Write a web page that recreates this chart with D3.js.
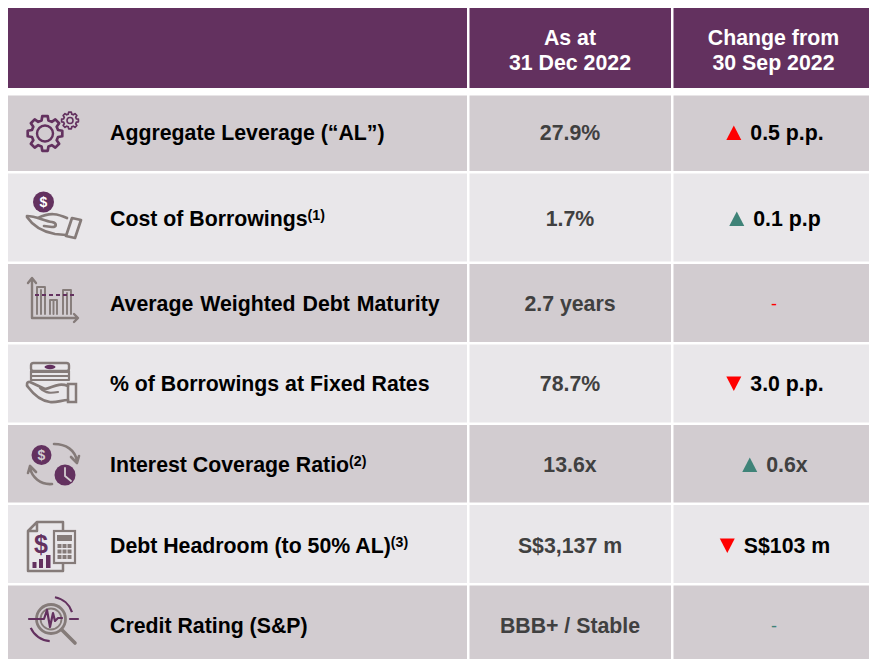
<!DOCTYPE html>
<html lang="en">

<head>
    <meta charset="UTF-8">
    <title>Debt metrics</title>
    <script src="https://d3js.org/d3.v7.min.js"></script>
    <style>
        html, body { margin: 0; padding: 0; background: #fff; }
        svg { display: block; }
        text { font-family: "Liberation Sans", Arial, sans-serif; font-weight: bold; }
    </style>
</head>

<body>
    <div class="chart"></div>

    <script>
        // table content
        var headerCol2 = ['As at', '31 Dec 2022'];
        var headerCol3 = ['Change from', '30 Sep 2022'];
        var labels = ['Aggregate Leverage (“AL”)', 'Cost of Borrowings', 'Average Weighted Debt Maturity',
            '% of Borrowings at Fixed Rates', 'Interest Coverage Ratio', 'Debt Headroom (to 50% AL)', 'Credit Rating (S&P)'];
        var notes = ['', '(1)', '', '', '(2)', '(3)', ''];
        var values = ['27.9%', '1.7%', '2.7 years', '78.7%', '13.6x', 'S$3,137 m', 'BBB+ / Stable'];
        var changes = ['0.5 p.p.', '0.1 p.p', '-', '3.0 p.p.', '0.6x', 'S$103 m', '-'];
        var directions = ['up', 'up', 'none', 'down', 'up', 'down', 'none'];
        var changeTones = ['bad', 'good', 'bad', 'bad', 'good', 'bad', 'good'];

        var purple = '#63315f', grey = '#857b79', darkRow = '#d2ccd0', lightRow = '#e9e7ea';
        var red = '#ff0000', teal = '#3f8378';

        var width = 869, height = 659;
        var colEdges = [[8, 467], [469.5, 671], [673.5, 869]];
        var rowEdges = [[95.5, 171], [173.5, 261.5], [264, 342], [344.5, 422.5], [425, 502.5], [505, 583], [585.5, 659]];

        var svg = d3.select('.chart').append('svg')
            .attr('width', width)
            .attr('height', height);

        // header
        colEdges.forEach(function (c) {
            svg.append('rect').attr('x', c[0]).attr('y', 8).attr('width', c[1] - c[0]).attr('height', 80).attr('fill', purple);
        });
        [headerCol2, headerCol3].forEach(function (lines, i) {
            lines.forEach(function (t, j) {
                svg.append('text')
                    .attr('x', i == 0 ? 570 : 773.5)
                    .attr('y', 45 + j * 25)
                    .attr('text-anchor', 'middle')
                    .attr('font-size', 21.3)
                    .attr('fill', '#fff')
                    .text(t);
            });
        });

        // rows
        labels.forEach(function (label, i) {
            var r = rowEdges[i];
            colEdges.forEach(function (c) {
                svg.append('rect').attr('x', c[0]).attr('y', r[0]).attr('width', c[1] - c[0]).attr('height', r[1] - r[0])
                    .attr('fill', i % 2 == 0 ? darkRow : lightRow);
            });

            var base = [140, 226, 311, 391, 472, 553, 633][i];

            var t = svg.append('text').attr('x', 110).attr('y', base).attr('font-size', 21.3).attr('fill', '#000');
            if (i == 2) t.attr('word-spacing', 1);
            t.append('tspan').text(label);
            if (notes[i]) {
                t.append('tspan').attr('dy', -6).attr('font-size', 14.2).text(notes[i]);
            }

            svg.append('text').attr('x', 570).attr('y', base).attr('text-anchor', 'middle')
                .attr('font-size', 21.3).attr('fill', '#404040').text(values[i]);

            var tone = changeTones[i] == 'bad' ? red : teal;
            if (directions[i] == 'none') {
                svg.append('text').attr('x', 774).attr('y', base - 1).attr('text-anchor', 'middle')
                    .attr('font-size', 18).attr('font-weight', 'normal').style('font-weight', 'normal')
                    .attr('fill', tone).text(changes[i]);
            } else {
                var ct = svg.append('text').attr('y', base).attr('font-size', 21.3)
                    .attr('fill', i == 4 ? '#404040' : '#000').text(changes[i]);
                var w = ct.node().getComputedTextLength();
                var left = 775 - (w + 24) / 2;
                ct.attr('x', left + 24);
                var tb = base - 14.5;
                var pts = directions[i] == 'up'
                    ? [[left, tb + 14.5], [left + 15, tb + 14.5], [left + 7.5, tb]]
                    : [[left, tb], [left + 15, tb], [left + 7.5, tb + 14.5]];
                svg.append('path').attr('d', d3.line()(pts) + 'Z').attr('fill', tone);
            }
        });

        // icons, drawn by hand
        function stroke(g, d, col, sw) {
            return g.append('path').attr('d', d).attr('fill', 'none').attr('stroke', col)
                .attr('stroke-width', sw).attr('stroke-linejoin', 'round').attr('stroke-linecap', 'round');
        }
        function gearPath(cx, cy, rOut, rIn, teeth) {
            var pts = [];
            for (var k = 0; k < teeth; k++) {
                var a = k / teeth * 2 * Math.PI, s = Math.PI / teeth;
                [[-0.6, rIn], [-0.36, rOut], [0.36, rOut], [0.6, rIn]].forEach(function (p) {
                    var b = a + p[0] * s * 1.1;
                    pts.push([cx + p[1] * Math.cos(b), cy + p[1] * Math.sin(b)]);
                });
            }
            return d3.line()(pts) + 'Z';
        }
        function coin(g, cx, cy, r) {
            g.append('circle').attr('cx', cx).attr('cy', cy).attr('r', r).attr('fill', purple);
        }
        function dollar(g, x, y, size, col) {
            g.append('text').attr('x', x).attr('y', y).attr('text-anchor', 'middle')
                .attr('font-size', size).attr('fill', col).text('$');
        }

        var icons = svg.append('g');

        // gears
        stroke(icons, gearPath(45, 133.5, 17.5, 13.5, 8), purple, 2.7);
        icons.append('circle').attr('cx', 45).attr('cy', 133.5).attr('r', 8).attr('fill', 'none').attr('stroke', purple).attr('stroke-width', 2.4);
        stroke(icons, gearPath(70, 120.5, 8.5, 6.6, 8), purple, 1.7);
        icons.append('circle').attr('cx', 70).attr('cy', 120.5).attr('r', 3).attr('fill', 'none').attr('stroke', purple).attr('stroke-width', 1.6);

        // hand with coin
        coin(icons, 43.5, 202, 10.5);
        dollar(icons, 43.5, 207, 14, '#fff');
        stroke(icons, 'M67 218 C58 214 50 212 38 218 M27 216 C36 216 44 221 52 222 C57 223 57 227 52 227 L44 226', grey, 2.7);
        stroke(icons, 'M27 217 C33 226 44 232 55 234 L66 235', grey, 2.7);
        stroke(icons, 'M72 218 L81 220 L75 238 L66 236 Z', grey, 2.7);

        // bar chart with dashed line
        stroke(icons, 'M32 279 L32 318 L77 318 M28 283 L32 278 L36 283 M74 314 L78 318 L74 322', grey, 2.4);
        stroke(icons, 'M37 314 L37 287 L45 287 L45 314 M41 290 L41 314 M50 314 L50 300 L57 300 L57 314 M53.5 300 L53.5 314 M63 314 L63 290 L71 290 L71 314 M67 293 L67 314', grey, 1.9);
        stroke(icons, 'M35 295 L77 295', purple, 2.2).attr('stroke-dasharray', '4 3').attr('stroke-linecap', 'butt');

        // cash stack on a hand
        icons.append('rect').attr('x', 31).attr('y', 363).attr('width', 38).attr('height', 8).attr('rx', 2.5).attr('fill', 'none').attr('stroke', grey).attr('stroke-width', 2.4);
        icons.append('ellipse').attr('cx', 50).attr('cy', 367).attr('rx', 5.5).attr('ry', 2.2).attr('fill', purple);
        stroke(icons, 'M31 372 L69 372 M31 376 L69 376 M31 380 L69 380 M31 371 L31 380 M69 371 L69 380', grey, 2.2);
        stroke(icons, 'M68 386 C58 382 52 388 45 389 L30 382 C27 381 26 385 28 387 C34 395 42 401 50 402 C56 403 62 400 68 400', grey, 2.7);
        stroke(icons, 'M40 388 C46 394 52 393 58 392', grey, 2.2);
        icons.append('rect').attr('x', 68).attr('y', 384).attr('width', 8).attr('height', 18).attr('fill', 'none').attr('stroke', grey).attr('stroke-width', 2.5);

        // coin, clock and round arrows
        coin(icons, 41.5, 455, 10);
        dollar(icons, 41.5, 460, 14, darkRow);
        coin(icons, 65, 475, 10.5);
        stroke(icons, 'M65 468 L65 476 L71 481', darkRow, 1.8);
        stroke(icons, 'M54 444 C66 444 75 450 77 461 M71 457 L77 463 L79 456', grey, 2.6);
        stroke(icons, 'M52 484 C40 485 32 477 30 468 M36 472 L30 466 L28 473', grey, 2.6);

        // document with calculator
        stroke(icons, 'M37 522 L63 522 L63 530 M37 522 L28 531 L28 571 L63 571 L63 564 M37 522 L37 531 L28 531', grey, 2.5);
        dollar(icons, 41, 553, 25, purple);
        [[32.5, 562, 4], [39, 559, 4], [46, 555, 4.5]].forEach(function (b) {
            icons.append('rect').attr('x', b[0]).attr('y', b[1]).attr('width', b[2]).attr('height', 568 - b[1]).attr('fill', purple);
        });
        icons.append('rect').attr('x', 54).attr('y', 531).attr('width', 21).attr('height', 32).attr('fill', lightRow).attr('stroke', grey).attr('stroke-width', 2.2);
        icons.append('rect').attr('x', 57).attr('y', 535).attr('width', 15).attr('height', 6).attr('fill', grey);
        d3.range(3).forEach(function (a) {
            d3.range(3).forEach(function (b) {
                icons.append('rect').attr('x', 57.5 + a * 5).attr('y', 544 + b * 5.5).attr('width', 4).attr('height', 4).attr('fill', grey);
            });
        });

        // magnifier with pulse line
        icons.append('circle').attr('cx', 51).attr('cy', 619).attr('r', 14.5).attr('fill', 'none').attr('stroke', grey).attr('stroke-width', 2.8);
        icons.append('circle').attr('cx', 51).attr('cy', 619).attr('r', 10.5).attr('fill', 'none').attr('stroke', grey).attr('stroke-width', 1.8);
        stroke(icons, 'M62 630 L75 643', grey, 3.6);
        var arcPurple = d3.arc().innerRadius(21).outerRadius(23.2);
        icons.append('path').attr('transform', 'translate(51,619)').attr('fill', purple)
            .attr('d', arcPurple({ startAngle: 0.18, endAngle: 1.25 }));
        icons.append('path').attr('transform', 'translate(51,619)').attr('fill', purple)
            .attr('d', arcPurple({ startAngle: 3.2, endAngle: 4.3 }));
        stroke(icons, 'M29 619 L44 619 L47 610 L50 627 L53 613 L55 621 L58 618 L62 618', purple, 2.2);
        stroke(icons, 'M70 619 L78 619', purple, 2.2);
    </script>
</body>

</html>
